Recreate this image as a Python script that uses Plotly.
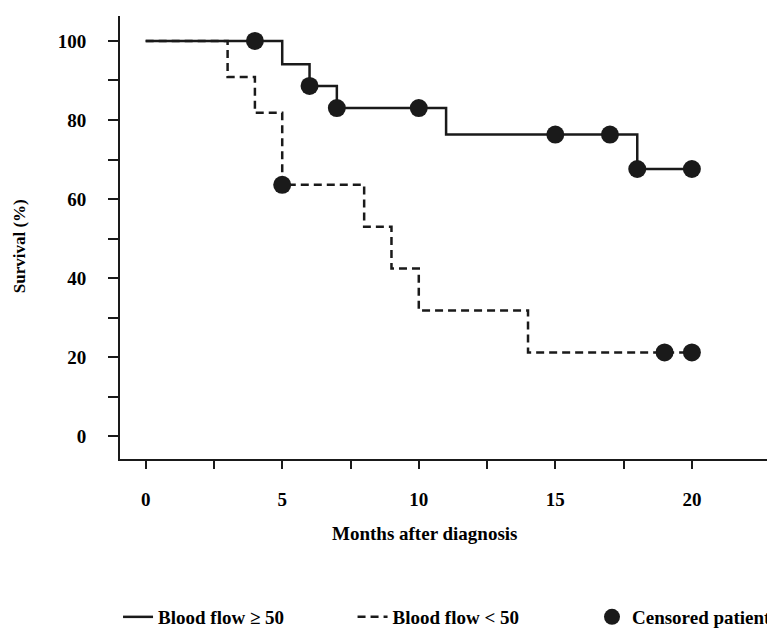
import plotly.graph_objects as go

# Kaplan-Meier step data (months, survival %)
high_months = [0, 5, 6, 7, 11, 18, 20]
high_surv = [100, 94.1, 88.6, 83.0, 76.3, 67.6, 67.6]
high_cens_months = [4, 6, 7, 10, 15, 17, 18, 20]
high_cens_surv = [100, 88.6, 83.0, 83.0, 76.3, 76.3, 67.6, 67.6]

low_months = [0, 3, 4, 5, 8, 9, 10, 14, 20]
low_surv = [100, 90.9, 81.8, 63.6, 53.0, 42.4, 31.8, 21.2, 21.2]
low_cens_months = [5, 19, 20]
low_cens_surv = [63.6, 21.2, 21.2]

x_tickvals = [0, 2.5, 5, 7.5, 10, 12.5, 15, 17.5, 20]
x_ticktext = ["0", "", "5", "", "10", "", "15", "", "20"]
y_tickvals = [0, 10, 20, 30, 40, 50, 60, 70, 80, 90, 100]
y_ticktext = ["0", "", "20", "", "40", "", "60", "", "80", "", "100"]

FONT = "Liberation Serif"
INK = "#1a1a1a"

fig = go.Figure()
fig.add_trace(go.Scatter(x=low_months, y=low_surv, mode="lines", line_shape="hv",
                         line=dict(color=INK, width=2.5, dash="8px,5px"),
                         name="Blood flow < 50", legend="legend2"))
fig.add_trace(go.Scatter(x=high_months, y=high_surv, mode="lines", line_shape="hv",
                         line=dict(color=INK, width=2.5),
                         name="Blood flow ≥ 50", legend="legend"))
fig.add_trace(go.Scatter(x=high_cens_months, y=high_cens_surv, mode="markers",
                         marker=dict(color=INK, size=18, symbol="circle"),
                         name="Censored patients", legend="legend3"))
fig.add_trace(go.Scatter(x=low_cens_months, y=low_cens_surv, mode="markers",
                         marker=dict(color=INK, size=18, symbol="circle"),
                         name="Censored patients", showlegend=False))

legend_common = dict(orientation="h", yanchor="middle", xanchor="left",
                     font=dict(family=FONT, size=19, color="black", weight="bold"),
                     bgcolor="rgba(0,0,0,0)", borderwidth=0)
fig.update_layout(
    width=775, height=628,
    margin=dict(l=112, r=0, t=8, b=173),
    paper_bgcolor="white", plot_bgcolor="white",
    font=dict(family=FONT, color="black"),
    showlegend=True,
    legend=dict(x=-0.003, y=-0.358, **legend_common),
    legend2=dict(x=0.3545, y=-0.358, **legend_common),
    legend3=dict(x=0.7195, y=-0.358, **legend_common),
    xaxis=dict(range=[-0.94, 23.08], showgrid=False, zeroline=False,
               showline=True, linecolor=INK, linewidth=2,
               ticks="outside", ticklen=8, tickwidth=1.5, tickcolor=INK,
               tickvals=x_tickvals, ticktext=x_ticktext, ticklabelstandoff=14,
               tickfont=dict(family=FONT, size=19, color="black", weight="bold")),
    yaxis=dict(range=[-5.76, 106.3], showgrid=False, zeroline=False,
               showline=True, linecolor=INK, linewidth=2,
               ticks="outside", ticklen=10, tickwidth=1.5, tickcolor=INK,
               tickvals=y_tickvals, ticktext=y_ticktext, ticklabelstandoff=18,
               tickfont=dict(family=FONT, size=19, color="black", weight="bold")),
    annotations=[
        dict(text="<b>Months after diagnosis</b>", xref="paper", yref="paper",
             x=0.4646, y=-0.168, showarrow=False, xanchor="center", yanchor="middle",
             font=dict(family=FONT, size=19, color="black")),
        dict(text="<b>Survival (%)</b>", xref="paper", yref="paper",
             x=-0.152, y=0.481, showarrow=False, textangle=-90,
             xanchor="center", yanchor="middle",
             font=dict(family=FONT, size=17, color="black")),
    ],
)

fig.write_html("out.html")
